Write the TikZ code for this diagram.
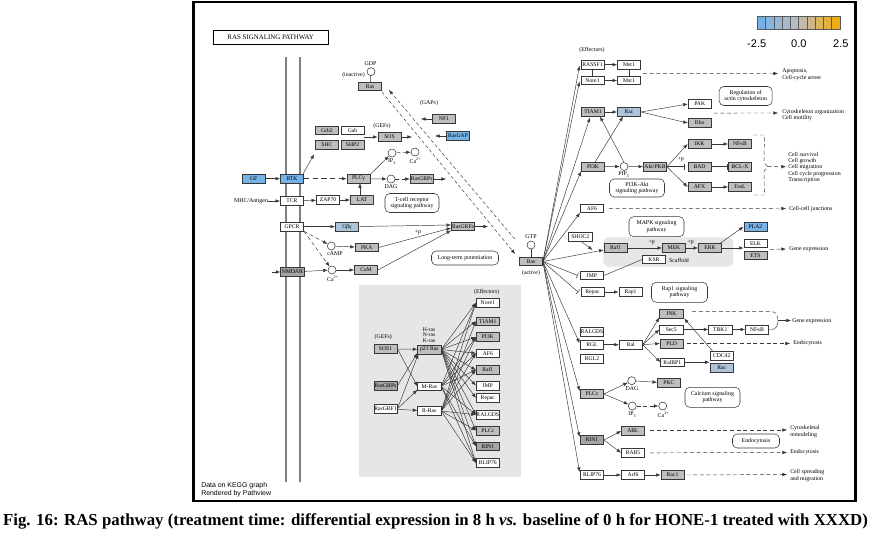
\documentclass[tikz,border=0pt]{standalone}
\usepackage{fontspec}
\setmainfont{Liberation Serif}
\newfontfamily\legfont{Liberation Sans}
\usetikzlibrary{arrows.meta,calc}
\definecolor{kgray}{RGB}{190,190,190}
\definecolor{kdgray}{RGB}{165,165,165}
\definecolor{kblue}{RGB}{118,178,232}
\definecolor{klblue}{RGB}{172,196,220}
\definecolor{kline}{RGB}{55,55,55}
\definecolor{kbg}{RGB}{230,230,230}
\definecolor{korange}{RGB}{240,172,20}
\newcommand\kegfont{\fontsize{4.4}{4.8}\selectfont}
\newcommand\boxfont{\fontsize{4.25}{4.6}\selectfont}
\tikzset{
 kbox/.style={draw=kline, line width=0.4pt, minimum width=17.5pt, minimum height=6.4pt, inner sep=0pt, font=\boxfont, fill=white},
 gb/.style={kbox, fill=kgray},
 dgb/.style={kbox, fill=kdgray},
 bb/.style={kbox, fill=kblue},
 lbb/.style={kbox, fill=klblue},
 pway/.style={draw=kline, line width=0.4pt, rounded corners=3.5pt, font=\kegfont, align=center, inner sep=0pt, fill=white},
 cpd/.style={circle, draw=kline, line width=0.4pt, minimum size=6pt, inner sep=0pt, fill=white},
 lab/.style={font=\kegfont, inner sep=0pt, align=left},
 arr/.style={draw=kline, line width=0.35pt, -{Latex[length=3.4pt,width=2.6pt]}},
 darr/.style={arr, dash pattern=on 3pt off 2pt},
 dln/.style={draw=kline, line width=0.35pt, dash pattern=on 3pt off 2pt},
 ln/.style={draw=kline, line width=0.35pt},
 inh/.style={draw=kline, line width=0.35pt, -{Bar[width=4.5pt]}},
}
\begin{document}
\begin{tikzpicture}[x=0.75pt,y=-0.75pt]
\useasboundingbox (0,0) rectangle (870,534);
\fill[white] (0,0) rectangle (870,534);
% frame
\draw[black, line width=1.6pt] (193.5,2) rectangle (855.5,501);
% title
\node[draw, line width=0.6pt, minimum width=86.5pt, minimum height=10.5pt, inner sep=0pt, font=\fontsize{5.2}{6}\selectfont] (title) at (270.7,37.7) {RAS SIGNALING PATHWAY};
% membrane
\draw[gray, line width=1.5pt] (286,57) -- (286,482);
\draw[gray, line width=1.5pt] (299.5,57) -- (299.5,482);
% backgrounds
\fill[kbg] (359,285) rectangle (521,477);
\fill[kbg, rounded corners=4pt] (603.3,237.3) rectangle (733.3,266.7);
% legend
\foreach \i in {0,...,4}{
  \pgfmathsetmacro\pc{100-\i*22}
  \filldraw[fill=kblue!\pc!kgray, draw=black!65, line width=0.4pt] ({757.3+\i*8.27},16.7) rectangle ({757.3+(\i+1)*8.27},29);
}
\foreach \i in {5,...,9}{
  \pgfmathsetmacro\pc{(\i-5)*22+12}
  \filldraw[fill=korange!\pc!kgray, draw=black!65, line width=0.4pt] ({757.3+\i*8.27},16.7) rectangle ({757.3+(\i+1)*8.27},29);
}
\node[font=\legfont\fontsize{8.3}{9}\selectfont, inner sep=0pt] (lgA) at (756.7,43.3) {-2.5};
\node[font=\legfont\fontsize{8.3}{9}\selectfont, inner sep=0pt] (lgB) at (798.8,43.3) {0.0};
\node[font=\legfont\fontsize{8.3}{9}\selectfont, inner sep=0pt] (lgC) at (840.8,43.3) {2.5};
% credits
\node[font=\legfont\fontsize{5.2}{6.2}\selectfont, inner sep=0pt, anchor=west, align=left] (cred) at (201,489.5) {Data on KEGG graph\\Rendered by Pathview};
% caption
\node[font=\bfseries\fontsize{12.6}{14}\selectfont, inner sep=0pt] (cap) at (435.5,521) {Fig. 16: RAS pathway (treatment time: differential expression in 8 h \textit{vs.} baseline of 0 h for HONE-1 treated with XXXD)};

% ===== left part =====
\node[gb] (rasin) at (370,86.5) {Ras};
\node[cpd] (gdp) at (371,71.7) {};
\node[lab] (gdpl) at (370.5,63.5) {GDP};
\node[lab] (inact) at (353.5,75) {(inactive)};
\draw[ln] (gdp) -- (rasin);

\node[gb] (grb2) at (327,130.5) {Grb2};
\node[kbox] (gab) at (352.5,130.5) {Gab};
\node[gb] (shc) at (327,144.7) {SHC};
\node[gb] (shp2) at (352.5,144.7) {SHP2};
\node[lab] (gefs1) at (382,126) {(GEFs)};
\node[gb] (sos) at (389.5,137) {SOS};
\draw[arr] (gab.east |- sos) -- (sos);
\coordinate (sosend) at (412,137);
\draw[arr] (sos) -- (sosend);

\node[bb] (gf) at (253.7,178.7) {GF};
\node[bb] (rtk) at (292,178.7) {RTK};
\node[gb] (plcg) at (358.5,178.7) {PLCγ};
\draw[arr] (gf) -- (rtk);
\draw[arr, dash pattern=on 4pt off 2.5pt] (rtk) -- (plcg);
\draw[arr] ($(rtk.north east)+(-1,0)$) -- ($(shc.south west)+(-1,5)$);
\node[cpd] (ip3a) at (392,153) {};
\node[lab] (ip3al) at (392,161.5) {IP\textsubscript{3}};
\node[cpd] (ca1) at (415,152) {};
\node[lab] (ca1l) at (415.5,160.5) {Ca\textsuperscript{2+}};
\draw[arr] (plcg.north east) -- (ip3a);
\draw[darr] (ip3a) -- (ca1);
\node[cpd] (dag1) at (391,179) {};
\node[lab] (dag1l) at (391,187) {DAG};
\draw[arr] (plcg) -- (dag1);
\node[gb] (rasgrp) at (421.7,179) {RasGRPs};
\draw[darr] (dag1) -- (rasgrp);
\coordinate (rgpend) at (446,179);
\draw[arr] (rasgrp) -- (rgpend);

\node[gb] (lat) at (362,200) {LAT};
\node[kbox] (zap) at (328,200) {ZAP70};
\node[kbox] (tcr) at (292,201) {TCR};
\node[lab] (mhc) at (251,201) {MHC/Antigen};
\draw[arr] (mhc) -- (tcr);
\draw[arr] (tcr) -- (zap);
\draw[arr] (zap) -- (lat);
\coordinate (latup) at (360,195.8);
\draw[arr] (latup) -- (latup |- plcg.south);
\node[pway, minimum width=40.5pt, minimum height=14.25pt] (tcrp) at (412,203) {T-cell receptor\\signaling pathway};

\node[kbox] (gpcr) at (292,226.7) {GPCR};
\node[lbb] (gbg) at (347,226.7) {Gβγ};
\node[gb] (rasgrf) at (463,226.5) {RasGRFs};
\draw[arr] (gpcr) -- (gbg);
\draw[arr] (gbg) -- ($(rasgrf.west)+(0,-1.5)$);
\coordinate (rgfend) at (488,226.5);
\draw[arr] (rasgrf) -- (rgfend);
\node[gb] (pka) at (366.7,247.5) {PKA};
\node[cpd] (camp) at (331.3,246) {};
\node[lab] (campl) at (335,253.5) {cAMP};
\draw[darr] (gpcr.south east) -- (camp);
\draw[arr] (camp) -- (pka);
\draw[arr] (pka.east) -- ($(rasgrf.west)+(0,1.5)$);
\node[lab] (pp1) at (418,232) {+p};
\node[dgb] (nmdar) at (292.3,272) {NMDAR};
\coordinate (nmin) at (272,272);
\draw[arr] (nmin) -- (nmdar);
\node[cpd] (ca2) at (332,270) {};
\node[lab] (ca2l) at (333,278.5) {Ca\textsuperscript{2+}};
\draw[darr] (gpcr.south east) -- (ca2);
\draw[arr] (nmdar) -- (ca2);
\node[gb] (cam) at (366,270) {CaM};
\draw[arr] (ca2) -- (cam);
\draw[arr] (cam.east) -- ($(rasgrf.south west)+(0,-0.5)$);
\node[pway, minimum width=50.25pt, minimum height=10.5pt] (ltp) at (465,258) {Long-term potentiation};

\node[lab] (gaps) at (429,103) {(GAPs)};
\node[gb] (nf1) at (444,119) {NF1};
\coordinate (nf1end) at (421,119);
\draw[arr] (nf1) -- (nf1end);
\node[bb] (rasgap) at (458,136) {RasGAP};
\coordinate (rgapend) at (435,136);
\draw[arr] (rasgap) -- (rgapend);

% active Ras
\node[gb] (rasact) at (531,261.5) {Ras};
\node[cpd] (gtp) at (531,245) {};
\node[lab] (gtpl) at (531,237) {GTP};
\node[lab] (actl) at (531,273.5) {(active)};
\draw[ln] (gtp) -- (rasact);
\draw[darr, dash pattern=on 2.5pt off 1.8pt] ($(rasin.south east)+(0,1)$) -- ($(rasact.north west)+(-4,-3)$);
\draw[darr, dash pattern=on 2.5pt off 1.8pt] ($(gtp.west)+(-12,-6)$) -- ($(rasin.north east)+(7,8)$);

% ===== right column =====
\node[lab] (effl) at (592,50) {(Effectors)};
\node[kbox] (rassf1) at (592.5,64.7) {RASSF1};
\node[kbox] (mst1a) at (629,64.7) {Mst1};
\node[kbox] (nore1) at (592.5,80.5) {Nore1};
\node[kbox] (mst1b) at (629,80.5) {Mst1};
\draw[ln] (rassf1) -- (nore1);
\draw[ln] (mst1a) -- (mst1b);
\draw[arr] (rassf1) -- (mst1a);
\draw[arr] (nore1) -- (mst1b);
\node[lab, anchor=west] (apop) at (782,74.5) {Apoptosis,\\Cell-cycle arrest};
\draw[darr] ($(mst1a.south east)+(2,4.5)$) -- ($(apop.west)+(-4,-1)$);

\node[gb] (tiam1) at (593,112) {TIAM1};
\node[lbb] (rac1n) at (629,112) {Rac};
\draw[arr] (tiam1) -- (rac1n);
\node[kbox] (pak) at (699.7,104) {PAK};
\node[gb] (rho) at (699.7,123) {Rho};
\draw[arr] (rac1n.east) -- (pak.west);
\draw[arr] (rac1n.east) -- (rho.west);
\node[pway, minimum width=39.75pt, minimum height=14.25pt] (ract) at (745.7,96) {Regulation of\\actin cytoskeleton};
\node[lab, anchor=west] (cytol) at (782,115) {Cytoskeleton organization\\Cell motility};
\draw[darr] ($(pak.south east)+(2,4.5)$) -- ($(cytol.west)+(-4,-2)$);

\node[gb] (pi3k) at (593,166.7) {PI3K};
\node[cpd] (pip3) at (624,166.5) {};
\node[lab] (pip3l) at (624,174.5) {PIP\textsubscript{3}};
\node[gb] (akt) at (655,166.7) {Akt/PKB};
\draw[arr] (pi3k) -- (pip3);
\draw[arr] (pip3) -- (akt);
\draw[arr] ($(pi3k.north)+(2,0)$) -- ($(rac1n.south)+(-6,0)$);
\draw[arr] (pip3.north) -- ($(tiam1.south)+(7,0)$);
\node[gb] (ikk) at (699.5,144) {IKK};
\node[gb] (nfkb1) at (740,144) {NFκB};
\node[gb] (bad) at (699.5,166.7) {BAD};
\node[gb] (bclx) at (740,166.7) {BCL-X};
\node[gb] (afx) at (699.5,187) {AFX};
\node[gb] (fasl) at (740,187) {FasL};
\draw[arr] (akt.east) -- (ikk.west);
\draw[inh] (akt) -- ($(bad.west)+(-3,0)$);
\draw[arr] (akt.east) -- (afx.west);
\draw[arr] (ikk) -- (nfkb1);
\draw[inh] (bad) -- ($(bclx.west)+(-1,0)$);
\draw[arr] (afx) -- (fasl);
\node[lab] (pp2) at (680.7,159.5) {+p};
\coordinate (brtip) at (767.5,166.7);
\draw[dln] ($(nfkb1.east)+(1.5,-9)$) -- ++(11,0) -- ($(brtip)+(-3.5,-4.5)$) -- (brtip) -- ($(brtip)+(-3.5,4.5)$) -- ($(fasl.east)+(12.5,8)$) -- ($(fasl.east)+(1.5,8)$);
\node[lab, anchor=west] (csurv) at (788,167.5) {Cell survival\\Cell growth\\Cell migration\\Cell cycle progression\\Transcription};
\draw[darr] (brtip) -- ($(csurv.west)+(-2,-0.8)$);
\node[pway, minimum width=41.25pt, minimum height=13.5pt] (pi3kp) at (637,188) {PI3K-Akt\\signaling pathway};

\node[kbox] (af6) at (592,208.3) {AF6};
\node[lab, anchor=west] (ccj) at (789,209) {Cell-cell junctions};
\draw[darr] ($(af6.east)+(5,0)$) -- ($(ccj.west)+(-3,-0.5)$);

\node[pway, minimum width=41.25pt, minimum height=15pt] (mapkp) at (656.5,226.7) {MAPK signaling\\pathway};
\node[kbox] (shoc2) at (580.3,237) {SHOC2};
\node[gb] (raf1) at (615.5,248) {Raf1};
\node[gb] (mek) at (674,248) {MEK};
\node[gb] (erk) at (710,248) {ERK};
\node[kbox] (ksr) at (654,259.5) {KSR};
\node[lab] (scaf) at (679,260.5) {Scaffold};
\draw[arr] ($(shoc2.south)+(1,0)$) -- ($(raf1.west)+(-11,2)$);
\draw[arr] (raf1) -- (mek);
\draw[arr] (mek) -- (erk);
\node[lab] (pp3) at (651.7,242.7) {+p};
\node[lab] (pp4) at (690.7,242.7) {+p};
\node[bb] (pla2) at (755.5,226.7) {PLA2};
\node[kbox] (elk) at (755.5,243.5) {ELK};
\node[gb] (ets) at (755.5,255.3) {ETS};
\draw[arr] ($(erk.north east)+(-2,0)$) -- (pla2.west);
\draw[arr] (erk.east) -- (erk.east -| elk.west);
\node[lab, anchor=west] (gexp1) at (789,249) {Gene expression};
\draw[darr] ($(elk.east)!0.5!(ets.east)+(2.5,0)$) -- ($(gexp1.west)+(-3,0)$);

\node[kbox] (imp) at (592,275.5) {IMP};
\draw[ln] (imp.east) -- (ksr.west);
\node[kbox] (repac) at (592.5,292) {Repac};
\node[kbox] (rap1) at (630.5,292) {Rap1};
\draw[arr] (repac) -- (rap1);
\node[pway, minimum width=42pt, minimum height=15pt] (rap1p) at (679.5,292.3) {Rap1 signaling\\pathway};

\node[gb] (jnk) at (671.3,314) {JNK};
\node[kbox] (sec5) at (671.3,329.5) {Sec5};
\node[kbox] (tbk1) at (720.3,329.5) {TBK1};
\node[kbox] (nfkb2) at (757,329.5) {NFκB};
\draw[arr] (sec5) -- (tbk1);
\draw[arr] (tbk1) -- (nfkb2);
\coordinate (brtip2) at (778,320.5);
\draw[dln] ($(jnk.east)+(9,-2.3)$) -- ($(brtip2)+(-6,-8.8)$) to[out=0,in=90] (brtip2);
\draw[ln] (nfkb2.east) -- ($(brtip2)+(-6,9)$) to[out=0,in=-90] (brtip2);
\node[lab, anchor=west] (gexp2) at (792,321) {Gene expression};
\draw[arr] (brtip2) -- ($(gexp2.west)+(-1,-0.5)$);

\node[kbox] (ralgds) at (592,332) {RALGDS};
\node[kbox] (rgl) at (592,344.7) {RGL};
\node[kbox] (rgl2) at (592,359) {RGL2};
\node[kbox] (ral) at (630.8,344.7) {Ral};
\node[gb] (pld) at (671.7,343.5) {PLD};
\node[kbox] (ralbp1) at (672.3,362.2) {RalBP1};
\node[kbox] (cdc42) at (721.7,355.8) {CDC42};
\node[lbb] (rac2n) at (721.7,367.8) {Rac};
\draw[arr] (rgl) -- (ral);
\draw[arr] (ral.east) -- ($(jnk.south west)+(0,-1)$);
\draw[arr] (ral.east) -- (sec5.west);
\draw[arr] (ral.east) -- (pld.west);
\draw[arr] (ral.east) -- (ralbp1.west);
\draw[arr, line width=0.6pt] (ralbp1.east) -- (ralbp1.east -| cdc42.west);
\draw[arr] ($(cdc42.north west)+(3,0)$) -- ($(jnk.south east)+(1,0)$);
\node[lab, anchor=west] (endo1) at (793,343.5) {Endocytosis};
\draw[darr] ($(pld.east)+(3,0)$) -- ($(endo1.west)+(-3,0)$);

\node[gb] (plce) at (592,394) {PLCε};
\node[cpd] (dag2) at (631.7,380.7) {};
\node[lab] (dag2l) at (632,389) {DAG};
\node[gb] (pkc) at (669,383) {PKC};
\node[cpd] (ip3b) at (632.3,406) {};
\node[lab] (ip3bl) at (632.3,414.5) {IP\textsubscript{3}};
\node[cpd] (ca3) at (662.7,406) {};
\node[lab] (ca3l) at (663.5,414.5) {Ca\textsuperscript{2+}};
\draw[arr] (plce.east) -- (dag2);
\draw[arr] (plce.east) -- (ip3b);
\draw[arr] (dag2) -- (pkc);
\draw[darr] (ip3b) -- (ca3);
\node[pway, minimum width=41.25pt, minimum height=15pt] (calp) at (712.5,397.3) {Calcium signaling\\pathway};

\node[dgb] (rin1) at (592,440) {RIN1};
\node[gb] (abl) at (633,431) {ABL};
\node[kbox] (rab5) at (633,452.8) {RAB5};
\draw[arr] (rin1.east) -- (abl.west);
\draw[arr] (rin1.east) -- (rab5.west);
\node[lab, anchor=west] (cytrem) at (790,431.5) {Cytoskeletal\\remodeling};
\draw[darr] ($(abl.east)+(5,-1)$) -- ($(cytrem.west)+(-3,-1.5)$);
\node[lab, anchor=west] (endo2) at (790,452.5) {Endocytosis};
\draw[darr] ($(rab5.east)+(5,0)$) -- ($(endo2.west)+(-3,0)$);
\node[pway, minimum width=35.25pt, minimum height=10.5pt] (endop) at (756,441) {Endocytosis};

\node[kbox] (rlip) at (592,475) {RLIP76};
\node[kbox] (arf6) at (633,475) {Arf6};
\node[gb] (rac1) at (672.5,475) {Rac1};
\draw[arr] (rlip) -- (arf6);
\draw[arr] (arf6) -- (rac1);
\node[lab, anchor=west] (cellsp) at (790,475.5) {Cell spreading\\and migration};
\draw[darr] ($(rac1.east)+(2,0)$) -- ($(cellsp.west)+(-3,-1)$);

% fan from active Ras
\draw[arr] (rasact.east) -- ($(rassf1.west)+(-1,1)$);
\draw[arr] (rasact.east) -- ($(nore1.west)+(-1,1)$);
\draw[arr] (rasact.east) -- ($(tiam1.south)+(-3,1)$);
\draw[arr] (rasact.east) -- ($(pi3k.south west)+(0,0)$);
\draw[arr] (rasact.east) -- (af6.south west);
\draw[arr] (rasact.east) -- ($(raf1.west)+(0,2)$);
\draw[inh] (rasact.east) -- ($(imp.west)+(-2.5,0)$);
\draw[inh] (rasact.east) -- ($(repac.west)+(-2.5,0)$);
\draw[arr] (rasact.east) -- ($(rgl.west)+(-0.5,-1.5)$);
\draw[arr] (rasact.east) -- ($(plce.north west)+(-0.5,1.5)$);
\draw[arr] (rasact.east) -- ($(rin1.north west)+(-0.5,1.5)$);
\draw[arr] (rasact.east) -- ($(rlip.north west)+(-0.5,1.5)$);

% ===== gray box network =====
\node[lab] (gefs2) at (383.3,337.3) {(GEFs)};
\node[gb] (sos1) at (385.5,348.8) {SOS1};
\node[dgb] (rasgrps2) at (385.5,385.8) {RasGRPs};
\node[kbox] (rasgrf1) at (385.5,408.8) {RasGRF1};
\node[lab, align=center, font=\fontsize{4.2}{4}\selectfont] (hnk) at (429,335) {H-ras\\N-ras\\K-ras};
\node[gb] (p21) at (429.3,349.5) {p21 Ras};
\node[kbox] (mras) at (429.3,386.3) {M-Ras};
\node[kbox] (rras) at (429.3,411) {R-Ras};
\draw[arr] (sos1) -- (p21);
\draw[arr] (sos1.east) -- (mras.west);
\draw[arr] (rasgrps2.east) -- ($(p21.south west)+(0,-1)$);
\draw[arr] (rasgrf1.east) -- ($(p21.south west)+(1,0)$);
\draw[arr] (rasgrf1.east) -- ($(mras.south west)+(0,-1)$);
\draw[arr] (rasgrf1) -- (rras);
\node[lab] (eff2) at (486.7,291.7) {(Effectors)};
\node[kbox] (e1) at (487.8,302.8) {Nore1};
\node[gb] (e2) at (487.8,321.2) {TIAM1};
\node[gb] (e3) at (487.8,337) {PI3K};
\node[kbox] (e4) at (487.8,353.3) {AF6};
\node[gb] (e5) at (487.8,370) {Raf1};
\node[kbox] (e6) at (487.8,385.5) {IMP};
\node[kbox] (e7) at (487.8,398) {Repac};
\node[kbox] (e8) at (487.8,414.7) {RALGDS};
\node[gb] (e9) at (487.8,430.5) {PLCε};
\node[dgb] (e10) at (487.8,446.2) {RIN1};
\node[kbox] (e11) at (487.8,462.8) {RLIP76};
\foreach \e in {e1,e2,e3,e4,e5,e6,e7,e8,e9,e10,e11}
  \draw[arr] (p21.east) -- (\e.west);
\foreach \e in {e1,e3,e4,e5,e8,e10,e11}
  \draw[arr] (mras.east) -- (\e.west);
\foreach \e in {e1,e2,e3,e4,e5,e8,e9,e11}
  \draw[arr] (rras.east) -- (\e.west);
\end{tikzpicture}
\end{document}
